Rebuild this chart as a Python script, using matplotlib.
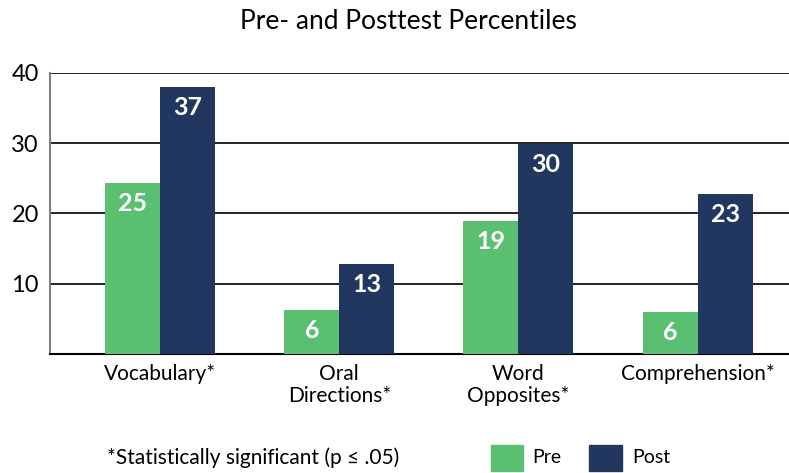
import matplotlib
matplotlib.use("Agg")
import matplotlib.pyplot as plt
import numpy as np
from matplotlib.patches import Rectangle

categories = ["Vocabulary*", "Oral\nDirections*", "Word\nOpposites*", "Comprehension*"]
pre_values = [24.3, 6.3, 18.9, 6.0]
post_values = [38.0, 12.8, 29.9, 22.8]
pre_labels = ["25", "6", "19", "6"]
post_labels = ["37", "13", "30", "23"]
y_ticks = [10, 20, 30, 40]

COLOR_PRE = "#5bbf72"
COLOR_POST = "#21375f"

plt.rcParams["font.family"] = ["Lato", "DejaVu Sans"]

fig = plt.figure(figsize=(7.89, 4.73), dpi=100)
ax = fig.add_axes([0.0634, 0.2516, 0.9366, 0.5941])

x = np.arange(len(categories))
width = 0.307
pre_bars = ax.bar(x - width / 2, pre_values, width, color=COLOR_PRE, zorder=3)
post_bars = ax.bar(x + width / 2, post_values, width, color=COLOR_POST, zorder=3)

for bars, labels in ((pre_bars, pre_labels), (post_bars, post_labels)):
    for bar, text in zip(bars, labels):
        ax.text(
            bar.get_x() + bar.get_width() / 2,
            bar.get_height() - 1.3,
            text,
            ha="center",
            va="top",
            color="white",
            fontsize=18,
            fontweight="bold",
            zorder=4,
        )

ax.set_xlim(-0.615, 3.51)
ax.set_ylim(0, 40)
ax.set_yticks(y_ticks)
ax.set_yticklabels([str(t) for t in y_ticks], fontsize=17)
ax.set_xticks(x, categories, fontsize=15, linespacing=1.15, va="top")
ax.tick_params(axis="both", length=0, pad=8)
ax.tick_params(axis="x", pad=7)
ax.grid(axis="y", color="black", linewidth=1.2, zorder=1)
for side in ("top", "right"):
    ax.spines[side].set_visible(False)
ax.spines["left"].set_color("#808080")
ax.spines["left"].set_linewidth(1.5)
ax.spines["bottom"].set_color("black")
ax.spines["bottom"].set_linewidth(1.5)

fig.text(0.518, 0.955, "Pre- and Posttest Percentiles", ha="center", va="center", fontsize=19)
fig.text(0.135, 0.032, "*Statistically significant (p \u2264 .05)", ha="left", va="center", fontsize=15)

fig.patches.append(Rectangle((0.622, 0.005), 0.041, 0.055, transform=fig.transFigure, color=COLOR_PRE))
fig.text(0.675, 0.032, "Pre", ha="left", va="center", fontsize=14)
fig.patches.append(Rectangle((0.747, 0.005), 0.041, 0.055, transform=fig.transFigure, color=COLOR_POST))
fig.text(0.801, 0.032, "Post", ha="left", va="center", fontsize=14)

fig.savefig("out.png", dpi=100)
